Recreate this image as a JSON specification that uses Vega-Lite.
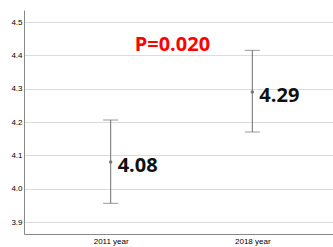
{
  "$schema": "https://vega.github.io/schema/vega-lite/v6.json",
  "width": 315,
  "height": 224,
  "autosize": "none",
  "padding": {"left": 24, "top": 10, "right": 0, "bottom": 13},
  "background": "white",
  "config": {
    "view": {"stroke": null},
    "axis": {"labelFont": "Liberation Sans", "labelFontSize": 8, "labelColor": "#000", "title": null},
    "axisY": {"ticks": false, "gridColor": "#dcdcdc", "gridWidth": 1, "domainColor": "#888", "labelPadding": 2, "labelOverlap": false, "format": ".1f"}
  },
  "data": {
    "values": [
      {"year": "2011 year", "mean": 4.08, "lo": 3.956, "hi": 4.206, "label": "4.08"},
      {"year": "2018 year", "mean": 4.29, "lo": 4.17, "hi": 4.415, "label": "4.29"}
    ]
  },
  "encoding": {
    "x": {
      "field": "year", "type": "nominal",
      "scale": {"type": "point", "padding": 0.612},
      "axis": {"labelAngle": 0, "ticks": false, "domainColor": "#888", "labelPadding": 3, "grid": false}
    }
  },
  "layer": [
    {
      "mark": {"type": "rule", "color": "#6e6e6e", "strokeWidth": 1},
      "encoding": {
        "y": {
          "field": "lo", "type": "quantitative",
          "scale": {"domain": [3.864, 4.536], "nice": false, "zero": false},
          "axis": {"values": [3.9, 4.0, 4.1, 4.2, 4.3, 4.4, 4.5]}
        },
        "y2": {"field": "hi"}
      }
    },
    {
      "mark": {"type": "tick", "color": "#6e6e6e", "size": 15, "thickness": 1},
      "encoding": {"y": {"field": "lo", "type": "quantitative", "axis": {"values": [3.9, 4.0, 4.1, 4.2, 4.3, 4.4, 4.5]}}}
    },
    {
      "mark": {"type": "tick", "color": "#6e6e6e", "size": 15, "thickness": 1},
      "encoding": {"y": {"field": "hi", "type": "quantitative", "axis": {"values": [3.9, 4.0, 4.1, 4.2, 4.3, 4.4, 4.5]}}}
    },
    {
      "mark": {"type": "point", "filled": true, "color": "#777", "size": 12, "opacity": 1},
      "encoding": {"y": {"field": "mean", "type": "quantitative", "axis": {"values": [3.9, 4.0, 4.1, 4.2, 4.3, 4.4, 4.5]}}}
    },
    {
      "mark": {"type": "text", "align": "left", "baseline": "middle", "dx": 7, "dy": 4, "font": "Open Sans", "fontWeight": "bold", "fontSize": 20, "color": "#111"},
      "encoding": {"y": {"field": "mean", "type": "quantitative", "axis": {"values": [3.9, 4.0, 4.1, 4.2, 4.3, 4.4, 4.5]}}, "text": {"field": "label"}}
    },
    {
      "data": {"values": [{"year": "2011 year", "y": 4.431, "label": "P=0.020"}]},
      "mark": {"type": "text", "align": "left", "baseline": "middle", "dx": 24, "font": "Open Sans", "fontWeight": "bold", "fontSize": 20, "color": "#ff0000"},
      "encoding": {"y": {"field": "y", "type": "quantitative", "axis": {"values": [3.9, 4.0, 4.1, 4.2, 4.3, 4.4, 4.5]}}, "text": {"field": "label"}}
    }
  ]
}
